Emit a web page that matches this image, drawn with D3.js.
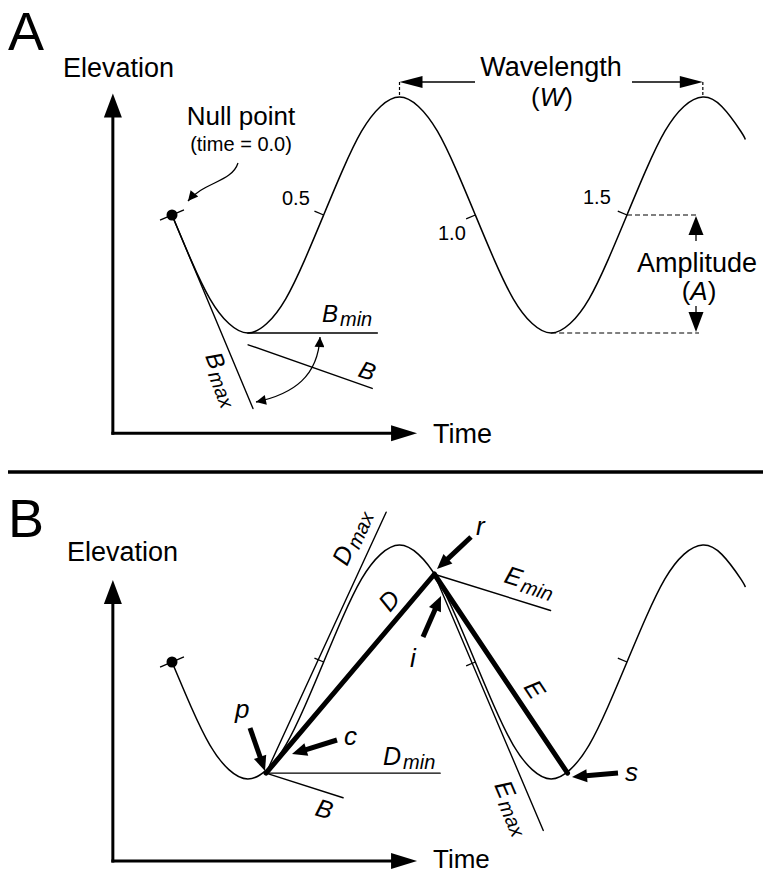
<!DOCTYPE html>
<html>
<head>
<meta charset="utf-8">
<script src="https://cdn.jsdelivr.net/npm/d3@7"></script>
<style>
body { margin: 0; background: #fff; }
svg { display: block; font-family: "Liberation Sans", Arial, Helvetica, sans-serif; }
</style>
</head>
<body>
<svg></svg>
<script>
// wave: time in wavelengths, elevation in amplitudes
var waveTime = [0, 0.0625, 0.125, 0.1875, 0.25, 0.3125, 0.375, 0.4375, 0.5, 0.5625, 0.625, 0.6875,
    0.75, 0.8125, 0.875, 0.9375, 1, 1.0625, 1.125, 1.1875, 1.25, 1.3125, 1.375, 1.4375,
    1.5, 1.5625, 1.625, 1.6875, 1.75, 1.8125, 1.875, 1.89];
var waveElev = [0, -0.38, -0.71, -0.92, -1, -0.92, -0.71, -0.38, 0, 0.38, 0.71, 0.92,
    1, 0.92, 0.71, 0.38, 0, -0.38, -0.71, -0.92, -1, -0.92, -0.71, -0.38,
    0, 0.38, 0.71, 0.92, 1, 0.92, 0.71, 0.64];

var tickTimes = [0.5, 1.0, 1.5];
var tickLabels = ['0.5', '1.0', '1.5'];

// axis extents [time] and [elevation]
var axisTime = [-0.195, 0.808];
var axisElevA = [-1.85, 1.03];
var axisElevB = [-1.70, 0.70];

// panel A reference lines [time, elevation]
var bMax = [[0, 0], [0.267, -1.64]];
var bMin = [[0.25, -1], [0.677, -1]];
var bLine = [[0.251, -1.10], [0.66, -1.47]];

// panel B points and lines
var pointP = [0.31, -0.95];
var pointR = [0.865, 0.75];
var pointS = [1.304, -0.95];
var dMax = [pointP, [0.706, 1.28]];
var dMin = [pointP, [0.884, -0.95]];
var bLineB = [pointP, [0.564, -1.16]];
var eMin = [pointR, [1.248, 0.44]];
var eMax = [pointR, [1.224, -1.44]];

var w = 763, h = 875;
var svg = d3.select('svg').attr('width', w).attr('height', h);

var x = d3.scaleLinear().domain([0, 1.5]).range([172, 627]);
var yA = d3.scaleLinear().domain([-1, 1]).range([333, 97]);
var yB = d3.scaleLinear().domain([-1, 1]).range([779, 545]);

var wave = waveTime.map(function(t, i) { return [t, waveElev[i]]; });

var defs = svg.append('defs');
defs.append('marker')
    .attr('id', 'head')
    .attr('viewBox', '0 0 10 10')
    .attr('refX', 10).attr('refY', 5)
    .attr('markerUnits', 'userSpaceOnUse')
    .attr('markerWidth', 13).attr('markerHeight', 10)
    .attr('orient', 'auto-start-reverse')
    .append('path').attr('d', 'M0,0L10,5L0,10Z').attr('fill', '#000');

function arrow(g, x1, y1, x2, y2, sw, hl, hw) {
    var dx = x2 - x1, dy = y2 - y1, len = Math.sqrt(dx * dx + dy * dy);
    var ux = dx / len, uy = dy / len;
    var bx = x2 - ux * hl, by = y2 - uy * hl;
    g.append('line')
        .attr('x1', x1).attr('y1', y1).attr('x2', bx + ux).attr('y2', by + uy)
        .attr('stroke', '#000').attr('stroke-width', sw);
    g.append('path')
        .attr('d', 'M' + x2 + ',' + y2 +
            'L' + (bx - uy * hw / 2) + ',' + (by + ux * hw / 2) +
            'L' + (bx + uy * hw / 2) + ',' + (by - ux * hw / 2) + 'Z')
        .attr('fill', '#000');
}

function seg(g, pts, y, sw) {
    g.append('line')
        .attr('x1', x(pts[0][0])).attr('y1', y(pts[0][1]))
        .attr('x2', x(pts[1][0])).attr('y2', y(pts[1][1]))
        .attr('stroke', '#000').attr('stroke-width', sw)
        .attr('stroke-linecap', 'round');
}

function label(g, px, py, s, size, rot, sub, italic) {
    var t = g.append('text')
        .attr('transform', 'translate(' + px + ',' + py + ')' + (rot ? ' rotate(' + rot + ')' : ''))
        .attr('font-size', size)
        .attr('font-style', italic ? 'italic' : 'normal')
        .text(s);
    if (sub) {
        t.append('tspan').attr('font-size', 20).attr('dy', 4).attr('dx', 2).text(sub);
    }
    return t;
}

// normal direction at a wave index, pointing to the left side
function normalAt(i, y) {
    var a = wave[Math.max(i - 1, 0)], b = wave[i + 1];
    var dx = x(b[0]) - x(a[0]), dy = y(b[1]) - y(a[1]);
    var len = Math.sqrt(dx * dx + dy * dy);
    var nx = dy / len, ny = -dx / len;
    if (nx > 0) { nx = -nx; ny = -ny; }
    return [nx, ny];
}

function panel(g, y, axisElev) {
    // axes
    arrow(g, x(axisTime[0]), y(axisElev[0]) + 1.5, x(axisTime[0]), y(axisElev[1]), 3, 24, 18);
    arrow(g, x(axisTime[0]) - 1.5, y(axisElev[0]), x(axisTime[1]), y(axisElev[0]), 3, 26, 16);

    var line = d3.line().x(function(d) { return x(d[0]); }).y(function(d) { return y(d[1]); })
        .curve(d3.curveNatural);
    g.append('path').datum(wave).attr('d', line)
        .attr('fill', 'none').attr('stroke', '#000').attr('stroke-width', 1.5);

    // time ticks
    tickTimes.forEach(function(t) {
        var i = waveTime.indexOf(t);
        var n = normalAt(i, y);
        var px = x(wave[i][0]), py = y(wave[i][1]);
        g.append('line')
            .attr('x1', px).attr('y1', py).attr('x2', px + n[0] * 10).attr('y2', py + n[1] * 10)
            .attr('stroke', '#000').attr('stroke-width', 1.3);
    });

    // null point
    var n0 = normalAt(0, y);
    var nx = x(wave[0][0]), ny = y(wave[0][1]);
    g.append('line')
        .attr('x1', nx - n0[0] * 13).attr('y1', ny - n0[1] * 13)
        .attr('x2', nx + n0[0] * 13).attr('y2', ny + n0[1] * 13)
        .attr('stroke', '#000').attr('stroke-width', 1.3);
    g.append('circle').attr('cx', nx).attr('cy', ny).attr('r', 5.5).attr('fill', '#000');
}

// ---------- panel A ----------
var gA = svg.append('g');
panel(gA, yA, axisElevA);

gA.append('text').attr('x', 8).attr('y', 50).attr('font-size', 54).text('A');
gA.append('text').attr('x', 63).attr('y', 77).attr('font-size', 27).text('Elevation');
gA.append('text').attr('x', 433).attr('y', 443).attr('font-size', 27).text('Time');

gA.append('text').attr('x', 241).attr('y', 125).attr('font-size', 26)
    .attr('text-anchor', 'middle').text('Null point');
gA.append('text').attr('x', 241).attr('y', 151).attr('font-size', 20)
    .attr('text-anchor', 'middle').text('(time = 0.0)');
gA.append('path').attr('d', 'M238,163 C232,182 204,182 188,201')
    .attr('fill', 'none').attr('stroke', '#000').attr('stroke-width', 1.3)
    .attr('marker-end', 'url(#head)');

var tickPos = [[282, 205], [438, 240], [583, 204]];
tickLabels.forEach(function(s, i) {
    gA.append('text').attr('x', tickPos[i][0]).attr('y', tickPos[i][1])
        .attr('font-size', 20).text(s);
});

seg(gA, bMax, yA, 1.4);
seg(gA, bMin, yA, 1.4);
seg(gA, bLine, yA, 1.4);
label(gA, 322, 322, 'B', 24, 0, 'min', true);
label(gA, 357, 376, 'B', 24, 19, null, true);
label(gA, 205, 356, 'B', 24, 69, 'max', true);
gA.append('path').attr('d', 'M320,337 C318,376 294,394 256,402')
    .attr('fill', 'none').attr('stroke', '#000').attr('stroke-width', 1.3)
    .attr('marker-start', 'url(#head)').attr('marker-end', 'url(#head)');

// wavelength
var pk1 = x(0.75), pk2 = x(1.75), pkY = yA(1);
[pk1, pk2].forEach(function(px) {
    gA.append('line').attr('x1', px).attr('y1', pkY - 15).attr('x2', px).attr('y2', pkY)
        .attr('stroke', '#000').attr('stroke-width', 1.2).attr('stroke-dasharray', '3,2');
});
arrow(gA, 475, pkY - 15, pk1, pkY - 15, 1.3, 23, 12);
arrow(gA, 632, pkY - 15, pk2, pkY - 15, 1.3, 23, 12);
gA.append('text').attr('x', 551).attr('y', 76).attr('font-size', 27)
    .attr('text-anchor', 'middle').text('Wavelength');
var wt = gA.append('text').attr('x', 552).attr('y', 106).attr('font-size', 26)
    .attr('text-anchor', 'middle');
wt.append('tspan').text('(');
wt.append('tspan').attr('font-style', 'italic').text('W');
wt.append('tspan').text(')');

// amplitude
gA.append('line').attr('x1', x(1.5)).attr('y1', yA(0)).attr('x2', 699).attr('y2', yA(0))
    .attr('stroke', '#000').attr('stroke-width', 1.2).attr('stroke-dasharray', '5,3');
gA.append('line').attr('x1', x(1.25)).attr('y1', yA(-1)).attr('x2', 699).attr('y2', yA(-1))
    .attr('stroke', '#000').attr('stroke-width', 1.2).attr('stroke-dasharray', '5,3');
arrow(gA, 696, 241, 696, yA(0) + 1, 1.3, 19, 15);
arrow(gA, 696, 306, 696, yA(-1) - 1, 1.3, 20, 15);
gA.append('text').attr('x', 697).attr('y', 272).attr('font-size', 27)
    .attr('text-anchor', 'middle').text('Amplitude');
var at = gA.append('text').attr('x', 699).attr('y', 300).attr('font-size', 26)
    .attr('text-anchor', 'middle');
at.append('tspan').text('(');
at.append('tspan').attr('font-style', 'italic').text('A');
at.append('tspan').text(')');

// divider
svg.append('line').attr('x1', 8).attr('y1', 472).attr('x2', w).attr('y2', 472)
    .attr('stroke', '#000').attr('stroke-width', 3.5);

// ---------- panel B ----------
var gB = svg.append('g');
panel(gB, yB, axisElevB);

gB.append('text').attr('x', 8).attr('y', 537).attr('font-size', 54).text('B');
gB.append('text').attr('x', 67).attr('y', 561).attr('font-size', 27).text('Elevation');
gB.append('text').attr('x', 433).attr('y', 868).attr('font-size', 26).text('Time');

seg(gB, dMax, yB, 1.4);
seg(gB, dMin, yB, 1.4);
seg(gB, bLineB, yB, 1.4);
seg(gB, eMin, yB, 1.4);
seg(gB, eMax, yB, 1.4);
seg(gB, [pointP, pointR], yB, 5);
seg(gB, [pointR, pointS], yB, 5);

label(gB, 347, 567, 'D', 25, -65.7, 'max', true);
label(gB, 390, 613, 'D', 25, -50.4, null, true);
label(gB, 503, 582, 'E', 25, 17.7, 'min', true);
label(gB, 523, 687, 'E', 25, 56.6, null, true);
label(gB, 494, 785, 'E', 25, 66.9, 'max', true);
label(gB, 383, 765, 'D', 25, 0, 'min', true);
label(gB, 314, 815, 'B', 25, 16, null, true);

label(gB, 235, 718, 'p', 26, 0, null, true);
label(gB, 344, 745, 'c', 26, 0, null, true);
label(gB, 476, 535, 'r', 26, 0, null, true);
label(gB, 410, 667, 'i', 26, 0, null, true);
label(gB, 625, 781, 's', 26, 0, null, true);

arrow(gB, 250, 728, 265, 771, 5, 15, 13);
arrow(gB, 337, 740, 292, 754, 5, 15, 13);
arrow(gB, 471, 537, 437, 569, 5, 15, 13);
arrow(gB, 423, 637, 441, 596, 5, 15, 13);
arrow(gB, 618, 773, 572, 777, 5, 15, 13);
</script>
</body>
</html>
